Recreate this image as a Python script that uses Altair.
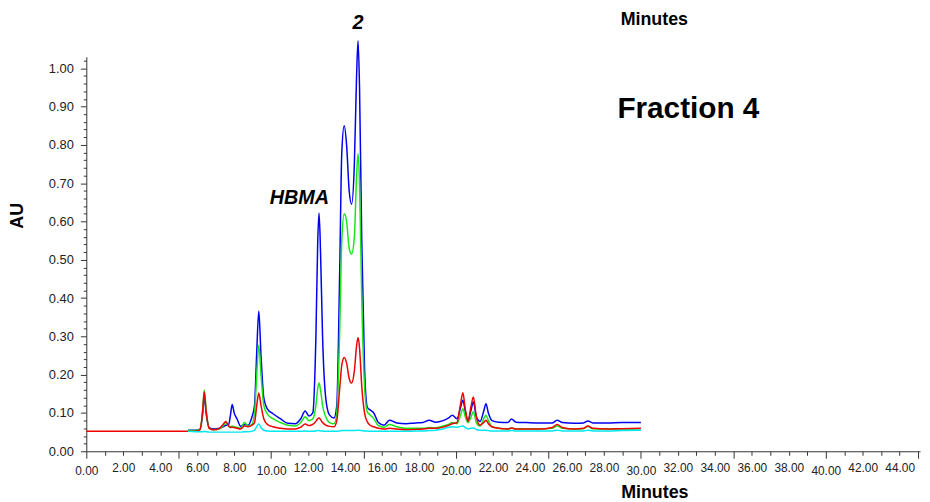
import altair as alt
import pandas as pd

# Retention times (minutes) shared by the four detector traces
times = [5.5, 5.9, 6.15, 6.3, 6.38, 6.48, 6.65, 6.9, 7.2, 7.4, 7.55, 7.7, 7.8, 7.89, 8.0, 8.15,
         8.35, 8.55, 8.75, 8.95, 9.1, 9.22, 9.33, 9.45, 9.6, 9.8, 10.1, 10.5, 10.9, 11.3, 11.6,
         11.84, 12.05, 12.25, 12.42, 12.52, 12.59, 12.67, 12.78, 12.95, 13.15, 13.4, 13.55, 13.7,
         13.82, 13.95, 14.08, 14.22, 14.35, 14.5, 14.62, 14.7, 14.78, 14.9, 15.05, 15.2, 15.35,
         15.55, 15.8, 16.1, 16.4, 16.8, 17.3, 17.8, 18.2, 18.55, 18.9, 19.3, 19.6, 19.8, 20.05,
         20.25, 20.37, 20.5, 20.65, 20.8, 20.94, 21.1, 21.3, 21.5, 21.62, 21.75, 21.95, 22.3,
         22.8, 23.0, 23.25, 23.8, 24.5, 25.2, 25.47, 25.75, 26.4, 26.9, 27.13, 27.4, 28.2, 29.0, 30.0]

blue = [.055, .055, .058, .10, .145, .10, .062, .058, .06, .064, .068, .07, .095, .122, .10, .085,
        .065, .07, .068, .088, .12, .26, .366, .25, .14, .11, .098, .085, .073, .072, .085,
        .105, .092, .10, .30, .55, .622, .52, .30, .14, .095, .087, .12, .45,
        .78, .85, .80, .68, .645, .75, .98, 1.072, .95, .55, .22, .115, .108,
        .10, .075, .068, .081, .074, .072, .074, .075, .081, .076, .08, .087, .094, .085,
        .115, .133, .105, .08, .105, .129, .09, .078, .105, .124, .10, .08, .076,
        .075, .084, .076, .075, .074, .074, .081, .075, .073, .074, .079, .074, .074, .075, .075]

green = [.055, .054, .058, .11, .16, .11, .06, .056, .058, .066, .075, .065, .064, .066, .064, .062,
         .06, .075, .066, .07, .10, .20, .277, .20, .12, .097, .085, .075, .068, .066, .075,
         .09, .08, .085, .12, .165, .178, .16, .12, .09, .075, .072, .10, .30,
         .55, .62, .60, .53, .515, .56, .72, .777, .70, .40, .17, .103, .095,
         .085, .067, .063, .07, .064, .06, .06, .06, .062, .061, .066, .07, .075, .072,
         .095, .111, .09, .075, .088, .103, .075, .066, .085, .094, .08, .064, .06,
         .058, .061, .058, .058, .058, .06, .066, .06, .058, .059, .065, .059, .058, .058, .059]

red = [.052, .052, .056, .11, .155, .105, .06, .056, .06, .07, .078, .066, .062, .063, .062, .06,
       .058, .066, .064, .068, .075, .12, .152, .12, .085, .07, .064, .06, .058, .058, .063,
       .071, .067, .07, .078, .085, .087, .083, .075, .068, .065, .064, .08, .16,
       .225, .245, .23, .19, .178, .21, .275, .297, .27, .17, .10, .077, .068,
       .064, .06, .058, .06, .058, .056, .057, .058, .06, .06, .063, .068, .072, .075,
       .125, .153, .11, .078, .115, .142, .09, .068, .075, .081, .072, .064, .06,
       .058, .061, .058, .058, .058, .062, .07, .062, .058, .06, .066, .06, .058, .059, .06]

cyan = [.052, .051, .051, .051, .052, .051, .05, .05, .05, .05, .05, .05, .05, .05, .05, .05,
        .05, .051, .051, .052, .055, .065, .071, .062, .055, .053, .052, .052, .052, .052, .052,
        .053, .052, .052, .053, .054, .054, .053, .053, .052, .052, .052, .052, .053,
        .054, .054, .054, .054, .054, .054, .055, .055, .055, .054, .053, .053, .052,
        .052, .052, .052, .052, .052, .052, .053, .053, .054, .055, .058, .063, .064, .063,
        .065, .066, .062, .058, .06, .061, .057, .055, .055, .055, .054, .053, .053,
        .053, .054, .053, .053, .053, .053, .055, .053, .053, .053, .055, .053, .053, .054, .055]

# Red trace starts at injection (flat baseline before the other traces begin)
red_lead_times = [0.0]
red_lead_values = [0.052]

series_names = ["blue", "green", "red", "cyan"]
series_colors = ["#0000F0", "#19E619", "#F00000", "#00E8F0"]

ann_text = ["Fraction 4", "HBMA", "2"]
ann_t = [32.57, 11.53, 14.70]
ann_v = [0.894, 0.662, 1.118]

rows = []
for name, vals in zip(series_names, [blue, green, red, cyan]):
    ts = list(times)
    vs = list(vals)
    if name == "red":
        ts = red_lead_times + ts
        vs = red_lead_values + vs
    for i, (t, v) in enumerate(zip(ts, vs)):
        rows.append({"t": t, "au": v, "trace": name, "order": i})
df = pd.DataFrame(rows)

ann = pd.DataFrame({"label": ann_text, "t": ann_t, "au": ann_v})

x_ticks = list(range(0, 46))
y_ticks = [round(i * 0.02, 2) for i in range(0, 52)]

x_scale = alt.Scale(domain=[0, 45.1], nice=False, zero=False)
y_scale = alt.Scale(domain=[0, 1.03], nice=False, zero=False)

x_axis = alt.Axis(
    values=x_ticks, tickCount=200,
    labelExpr="datum.value % 2 === 0 ? format(datum.value, '.2f') : ''",
    tickSize={"condition": {"test": "datum.value % 5 === 0", "value": 7}, "value": 4},
    labelOverlap=False, labelFlush=False, labelPadding=7,
    labelFont="Liberation Sans", labelFontSize=12, labelColor="#222",
    domainColor="#333", tickColor="#333", grid=False,
    title="Minutes", titleFont="Liberation Sans", titleFontSize=18, titleFontWeight="bold",
    titleColor="#000", titleX=573, titleY=47, titleBaseline="alphabetic", titleAlign="center",
)

y_axis = alt.Axis(
    values=y_ticks, tickCount=200,
    labelExpr="(round(datum.value * 100) % 10 === 0) ? format(datum.value, '.2f') : ''",
    tickSize={"condition": {"test": "round(datum.value * 100) % 10 === 0", "value": 6},
              "value": 3},
    labelOverlap=False, labelFlush=False, labelPadding=7,
    labelFont="Liberation Sans", labelFontSize=13, labelColor="#222",
    domainColor="#333", tickColor="#333", grid=False,
    title="AU", titleFont="Liberation Sans", titleFontSize=18, titleFontWeight="bold",
    titleColor="#000", titleX=-69, titleY=160, titleAngle=270,
    titleAlign="center", titleBaseline="middle",
)

lines = alt.Chart(df).mark_line(strokeWidth=1.5, interpolate="monotone").encode(
    x=alt.X("t:Q", scale=x_scale, axis=x_axis),
    y=alt.Y("au:Q", scale=y_scale, axis=y_axis),
    color=alt.Color("trace:N", scale=alt.Scale(domain=series_names, range=series_colors),
                    legend=None),
    order=alt.Order("order:Q"),
)

frac = alt.Chart(ann.iloc[[0]]).mark_text(
    font="Liberation Sans", fontSize=30, fontWeight="bold", color="#000",
    align="center", baseline="middle"
).encode(x=alt.X("t:Q", scale=x_scale), y=alt.Y("au:Q", scale=y_scale), text="label:N")

peaks = alt.Chart(ann.iloc[[1, 2]]).mark_text(
    font="Liberation Sans", fontSize=20, fontWeight="bold", fontStyle="italic", color="#000",
    align="center", baseline="middle"
).encode(x=alt.X("t:Q", scale=x_scale), y=alt.Y("au:Q", scale=y_scale), text="label:N")

top_title = ["Minutes"]
top_df = pd.DataFrame({"label": top_title})
top = alt.Chart(top_df).mark_text(
    font="Liberation Sans", fontSize=18, fontWeight="bold", color="#000",
    align="center", baseline="alphabetic"
).encode(x=alt.value(573), y=alt.value(-32), text="label:N")

chart = alt.layer(lines, frac, peaks, top).properties(
    width=841, height=398,
    autosize=alt.AutoSizeParams(type="none"),
    padding={"left": 79, "top": 47, "right": 2, "bottom": 49},
).configure_view(stroke=None)

chart.save("out.html", embed_options={"renderer": "svg", "actions": False})
